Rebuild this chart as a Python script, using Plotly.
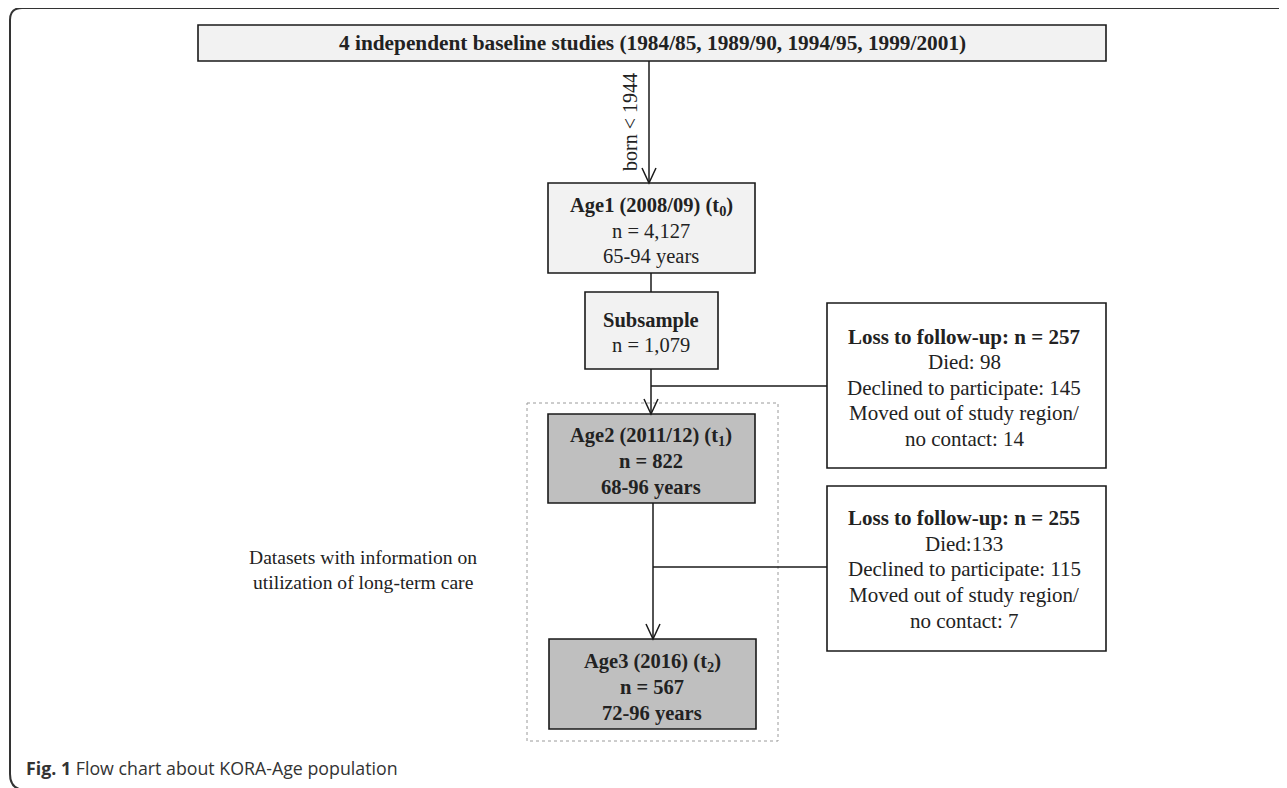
import plotly.graph_objects as go

W, H = 1287, 788
OFF = 8  # page body margin in the rendered html

# ---- content (text data) ----
top_title = "4 independent baseline studies (1984/85, 1989/90, 1994/95, 1999/2001)"
arrow_label = "born < 1944"
age1_lines = ["<b>Age1 (2008/09) (t<sub>0</sub>)</b>", "n = 4,127", "65-94 years"]
sub_lines = ["<b>Subsample</b>", "n = 1,079"]
age2_lines = ["<b>Age2 (2011/12) (t<sub>1</sub>)</b>", "<b>n = 822</b>", "<b>68-96 years</b>"]
age3_lines = ["<b>Age3 (2016) (t<sub>2</sub>)</b>", "<b>n = 567</b>", "<b>72-96 years</b>"]
loss1_lines = ["<b>Loss to follow-up: n = 257</b>", "Died: 98", "Declined to participate: 145",
               "Moved out of study region/", "no contact: 14"]
loss2_lines = ["<b>Loss to follow-up: n = 255</b>", "Died:133", "Declined to participate: 115",
               "Moved out of study region/", "no contact: 7"]
dataset_lines = ["Datasets with information on", "utilization of long-term care"]
caption = "<b>Fig. 1</b> Flow chart about KORA-Age population"

# ---- layout geometry ----
boxes = {
    "top":   dict(x0=198, x1=1106, y0=25, y1=61, fill="#f2f2f2"),
    "age1":  dict(x0=548, x1=755, y0=183, y1=273, fill="#f2f2f2"),
    "sub":   dict(x0=585, x1=718, y0=292, y1=369, fill="#f2f2f2"),
    "age2":  dict(x0=548, x1=755, y0=414, y1=503, fill="#bfbfbf"),
    "age3":  dict(x0=549, x1=756, y0=639, y1=729, fill="#bfbfbf"),
    "loss1": dict(x0=827, x1=1106, y0=303, y1=468, fill="white"),
    "loss2": dict(x0=827, x1=1106, y0=486, y1=651, fill="white"),
}

SERIF = "Liberation Serif, Times New Roman, serif"
SANS = "Open Sans, Noto Sans, sans-serif"
TXT = "#222222"
LINE = "#1a1a1a"

fig = go.Figure()
shapes = []
annotations = []

# outer frame (rounded left corners, continues beyond right/bottom edges)
shapes.append(dict(type="path", path="M 1300,8 L 22,8 Q 10,8 10,20 L 10,774 Q 10,790 26,790 L 1300,790",
                   line=dict(color="#333333", width=2), xref="x", yref="y"))

# dotted grouping rectangle
shapes.append(dict(type="rect", x0=527, x1=778, y0=403, y1=741,
                   line=dict(color="#9a9a9a", width=1, dash="dot"), xref="x", yref="y"))

for b in boxes.values():
    shapes.append(dict(type="rect", x0=b["x0"], x1=b["x1"], y0=b["y0"], y1=b["y1"],
                       fillcolor=b["fill"], line=dict(color=LINE, width=1.6), xref="x", yref="y"))

def vline(x, y0, y1):
    shapes.append(dict(type="line", x0=x, x1=x, y0=y0, y1=y1,
                       line=dict(color=LINE, width=1.5), xref="x", yref="y"))

def hline(y, x0, x1):
    shapes.append(dict(type="line", x0=x0, x1=x1, y0=y, y1=y,
                       line=dict(color=LINE, width=1.5), xref="x", yref="y"))

def chevron(x, ytip):
    shapes.append(dict(type="path", path=f"M {x-7},{ytip-15} L {x},{ytip} L {x+7},{ytip-15}",
                       line=dict(color=LINE, width=1.5), xref="x", yref="y"))

# connectors
vline(649, 61, 183); chevron(649, 183)
vline(651, 273, 292)
vline(651, 369, 414); chevron(651, 414)
hline(386, 651, 827)
vline(653, 503, 639); chevron(653, 639)
hline(567, 653, 827)

def text(x, y, s, size=20.5, font=SERIF, angle=0, xanchor="center", color=TXT):
    annotations.append(dict(x=x, y=y, text=s, showarrow=False, xref="x", yref="y",
                            xanchor=xanchor, yanchor="middle", textangle=angle,
                            font=dict(family=font, size=size, color=color)))

text(652, 43, f"<b>{top_title}</b>", size=21.3)
text(630, 122, arrow_label, size=20, angle=-90)

for s, y in zip(age1_lines, [206, 231, 256]):
    text(651, y, s)
for s, y in zip(sub_lines, [320, 345]):
    text(651, y, s)
for s, y in zip(age2_lines, [436, 461, 487]):
    text(651, y, s)
for s, y in zip(age3_lines, [662, 687, 713]):
    text(652, y, s)
for s, y in zip(loss1_lines, [337, 362, 388, 413, 439]):
    text(964, y, s, size=21)
for s, y in zip(loss2_lines, [518, 544, 569, 595, 621]):
    text(964, y, s, size=21)
for s, y in zip(dataset_lines, [557, 582]):
    text(363, y, s, size=19.6)

text(24, 768, caption, size=17.8, font=SANS, xanchor="left", color="#333333")

fig.update_layout(
    width=W - OFF, height=H - OFF,
    margin=dict(l=0, r=0, t=0, b=0),
    paper_bgcolor="white", plot_bgcolor="white",
    xaxis=dict(range=[OFF, W], visible=False, fixedrange=True),
    yaxis=dict(range=[H, OFF], visible=False, fixedrange=True),
    shapes=shapes, annotations=annotations, showlegend=False,
)

fig.write_html("out.html")
